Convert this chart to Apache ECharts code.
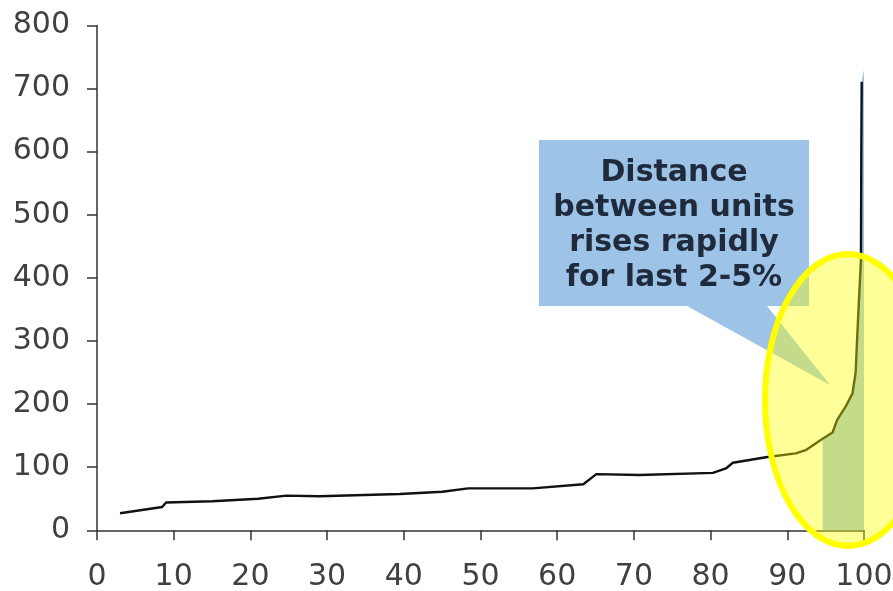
<!DOCTYPE html>
<html>
<head>
<meta charset="utf-8">
<script src="https://cdn.jsdelivr.net/npm/echarts@6/dist/echarts.min.js"></script>
<style>html,body{margin:0;padding:0;background:#fff;}#c{width:893px;height:591px;}</style>
</head>
<body>
<div id="c"></div>
<script>
// Percentile of units (x) vs distance between units (y)
const pctX = [3, 8.5, 9, 15, 21, 24.7, 29, 39.5, 45, 48.4, 56.8, 63.4, 65.1, 70.7, 80.3, 82, 82.9, 87.2, 91.1, 92.4, 94.6, 95.9, 96.5, 97.6, 98.5, 98.9, 99.1, 99.3, 99.6, 99.65, 99.7];
const distY = [27, 37, 44, 46, 50, 55, 54, 57.5, 61, 66.5, 66.5, 73, 89, 87.6, 91, 98, 107, 115.7, 122, 127, 145, 155, 175, 196, 217, 249, 302, 354, 428, 600, 711];
const bandStart = 94.6;          // last ~5% highlighted
const bandEnd = [100, 730];      // top of highlighted band at x = 100
const xTicks = [0, 10, 20, 30, 40, 50, 60, 70, 80, 90, 100];
const yTicks = [0, 100, 200, 300, 400, 500, 600, 700, 800];
const calloutLines = ['Distance', 'between units', 'rises rapidly', 'for last 2-5%'];

const lineData = pctX.map((x, i) => [x, distY[i]]);
const bandData = lineData.filter(p => p[0] >= bandStart).concat([bandEnd]);

const chart = echarts.init(document.getElementById('c'), null, {renderer: 'canvas'});
const font = 'DejaVu Sans, Verdana, sans-serif';
chart.setOption({
  animation: false,
  grid: {left: 97, right: 29, top: 25.5, bottom: 60.7, containLabel: false, outerBoundsMode: 'none'},
  xAxis: {
    type: 'value', min: xTicks[0], max: xTicks[xTicks.length - 1], interval: 10,
    axisLine: {lineStyle: {color: '#333', width: 1.5}},
    axisTick: {show: true, length: 10, lineStyle: {color: '#333', width: 1.5}},
    axisLabel: {color: '#404040', fontSize: 30, fontFamily: font, margin: 32, hideOverlap: false},
    splitLine: {show: false}
  },
  yAxis: {
    type: 'value', min: yTicks[0], max: yTicks[yTicks.length - 1], interval: 100,
    axisLine: {show: true, lineStyle: {color: '#333', width: 1.5}},
    axisTick: {show: true, length: 10, lineStyle: {color: '#333', width: 1.5}},
    axisLabel: {color: '#404040', fontSize: 30, fontFamily: font, margin: 27},
    splitLine: {show: false}
  },
  series: [
    {
      type: 'line', data: bandData, showSymbol: false, z: 1,
      lineStyle: {width: 0}, areaStyle: {color: '#9dc3e6', opacity: 1}
    },
    {
      type: 'line', data: lineData, showSymbol: false, z: 2,
      lineStyle: {color: '#111', width: 2.4}
    }
  ],
  graphic: [
    {
      type: 'polygon', z: 10,
      shape: {points: [[539, 140], [809, 140], [809, 306], [767, 306], [830, 385], [687, 306], [539, 306]]},
      style: {fill: '#9dc3e6'}
    },
    {
      type: 'text', z: 11,
      style: {
        text: calloutLines.join('\n'), x: 674, y: 226,
        align: 'center', verticalAlign: 'middle',
        font: 'bold 30px ' + font, lineHeight: 35, fill: '#1f2a3c'
      }
    },
    {
      type: 'ellipse', z: 20,
      shape: {cx: 848, cy: 400, rx: 83, ry: 146},
      style: {fill: 'rgba(255,255,0,0.4)', stroke: '#ffff00', lineWidth: 6}
    }
  ]
});
</script>
</body>
</html>
